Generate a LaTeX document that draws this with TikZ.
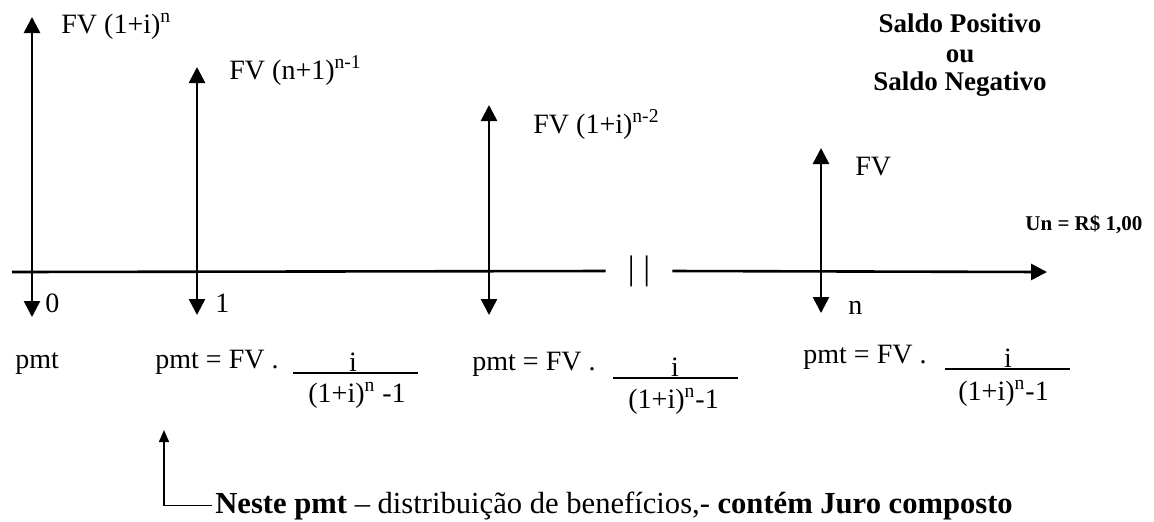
\documentclass[tikz,border=0pt]{standalone}
\usepackage{fontspec}
\setmainfont{Liberation Serif}
\usetikzlibrary{arrows.meta}

\tikzset{
  fluxo/.style={line width=1.3pt, {Triangle[width=8pt,length=8pt]}-{Triangle[width=8pt,length=8pt]}},
  eixo/.style={line width=1.3pt},
  rotulo/.style={anchor=base west, inner sep=0pt, font=\fontsize{14}{17}\selectfont},
  titulo/.style={anchor=base, inner sep=0pt, font=\fontsize{13.5}{16}\selectfont\bfseries},
  fracao/.style={line width=0.9pt},
}

\begin{document}
\begin{tikzpicture}[x=0.5pt, y=-0.5pt]
  \useasboundingbox (0,0) rectangle (1154,521);

  % 1. eixo do tempo
  \coordinate (e0) at (12,272);
  \coordinate (eF) at (1047,272);
  \node[rotulo, anchor=center, inner xsep=11pt, font=\fontsize{17}{20}\selectfont] (corte) at (639,271) {| |};
  \draw[eixo] (e0) -- (corte.west);
  \draw[eixo, -{Triangle[width=8pt,length=8pt]}] (corte.east) -- (eF);

  % 2. fluxos (setas duplas)
  \coordinate (c0) at (32,17);  \coordinate (b0) at (32,317);
  \coordinate (c1) at (197,67); \coordinate (b1) at (197,315);
  \coordinate (c2) at (489,105); \coordinate (b2) at (489,315);
  \coordinate (c3) at (821,148); \coordinate (b3) at (821,313);
  \draw[fluxo] (c0) -- (b0);
  \draw[fluxo] (c1) -- (b1);
  \draw[fluxo] (c2) -- (b2);
  \draw[fluxo] (c3) -- (b3);

  % 3. valores futuros
  \node[rotulo] (fv0) at (61,33) {FV (1+i)\textsuperscript{n}};
  \node[rotulo] (fv1) at (229,79) {FV (n+1)\textsuperscript{n-1}};
  \node[rotulo] (fv2) at (533,133) {FV (1+i)\textsuperscript{n-2}};
  \node[rotulo] (fvn) at (855,175) {FV};

  % periodos
  \node[rotulo] (p0) at (45,312) {0};
  \node[rotulo] (p1) at (215,312) {1};
  \node[rotulo] (pn) at (848,314) {n};

  % 4. saldo e unidade
  \node[titulo] (saldoP) at (960,32) {Saldo Positivo};
  \node[titulo] (ou) at (960,62) {ou};
  \node[titulo] (saldoN) at (960,90) {Saldo Negativo};
  \node[rotulo, font=\fontsize{10.5}{12}\selectfont\bfseries] (un) at (1025,230) {Un = R\$ 1,00};

  % 5. pagamentos
  \node[rotulo] (pmt0) at (15,368) {pmt};

  \node[rotulo] (pmt1) at (155,368) {pmt = FV .};
  \draw[fracao] (293,373) -- (418,373);
  \node[rotulo, anchor=base] (num1) at (353,371) {i};
  \node[rotulo] (den1) at (308,402) {(1+i)\textsuperscript{n} -1};

  \node[rotulo] (pmt2) at (472,370) {pmt = FV .};
  \draw[fracao] (613,378) -- (738,378);
  \node[rotulo, anchor=base] (num2) at (675,376) {i};
  \node[rotulo] (den2) at (628,408) {(1+i)\textsuperscript{n}-1};

  \node[rotulo] (pmt3) at (803,363) {pmt = FV .};
  \draw[fracao] (945,369) -- (1070,369);
  \node[rotulo, anchor=base] (num3) at (1008,367) {i};
  \node[rotulo] (den3) at (958,400) {(1+i)\textsuperscript{n}-1};

  % 6. nota
  \node[rotulo, inner xsep=1.5pt, font=\fontsize{15.3}{18}\selectfont] (nota) at (212,513)
    {\textbf{Neste pmt} – distribuição de benefícios,- \textbf{contém Juro composto}};
  \coordinate (alvo) at (164,430);
  \draw[line width=0.8pt, -{Triangle[width=5pt,length=6pt]}] (nota.west) -| (alvo);
\end{tikzpicture}
\end{document}
